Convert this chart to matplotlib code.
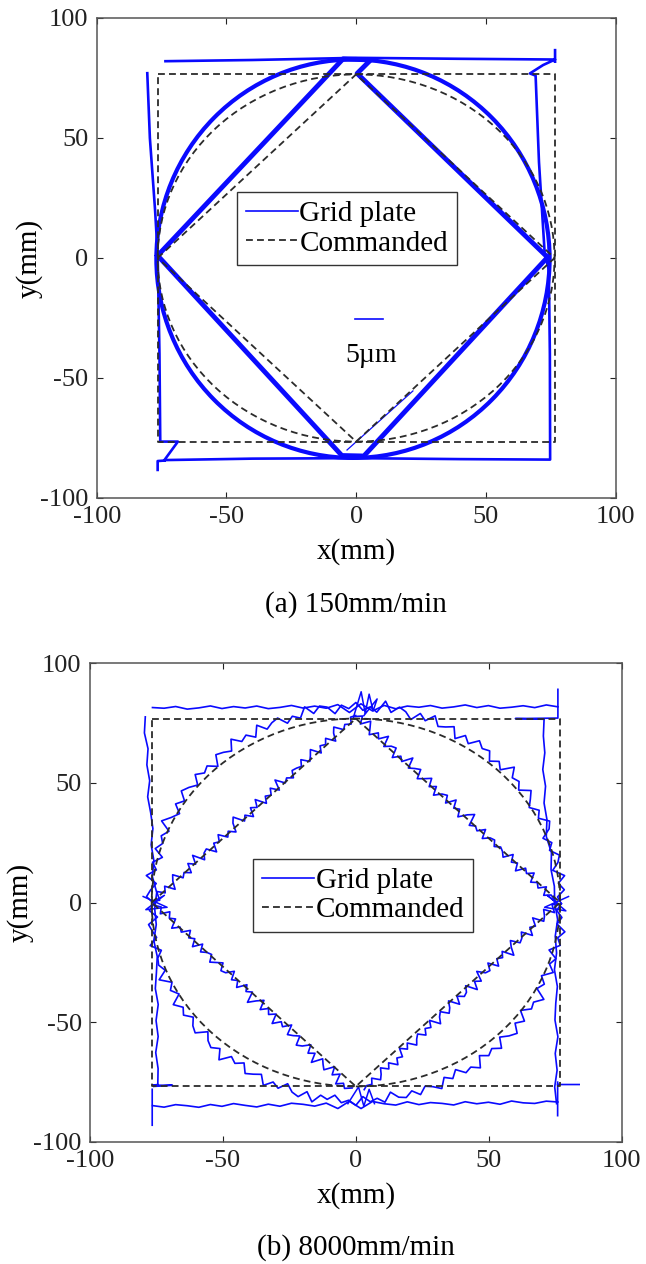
import numpy as np
import matplotlib
matplotlib.use('Agg')
import matplotlib.pyplot as plt
from matplotlib.patches import Circle, Ellipse
from matplotlib.lines import Line2D

plt.rcParams['font.family'] = ['Liberation Serif', 'DejaVu Serif']
plt.rcParams['axes.unicode_minus'] = False

# ---------------- data ----------------
ticks = [-100, -50, 0, 50, 100]
captions = ['(a) 150mm/min', '(b) 8000mm/min']
legend_labels = ['Grid plate', 'Commanded']

# commanded paths (half size of square / diamond, circle radius)
cmd_a = 76.5
cmd_b = 76.8

# ---- (a) 150 mm/min measured traces ----
sq_a_x = [-80.5, -79.5, -77.5, -76.5, -75.8, -75.5, -68.7, -73.9, -40, 0, 40, 74.8, 74.7,
          74.3, 72.7, 70.5, 69.2, 67.0, 72.1, 76.7, 40, 0, -40, -73.5,
          np.nan, -76.5, -76.5, -73.9, np.nan, 76.7, 76.7]
sq_a_y = [77, 50, 20, 1.5, -40, -76.5, -76.5, -84.2, -83.6, -83.4, -83.8, -84.0, -40,
          -5, 2, 40, 76, 76.9, 80.4, 82.7, 83.0, 83.4, 82.5, 82.0,
          np.nan, -88.3, -84.6, -84.4, np.nan, 81.8, 86.6]
circ_a_center = (-1.2, -0.3)
circ_a_rx = 75.8
circ_a_ry = 83.0
dia_a_x = [-76.5, -5.0, 5.6, 0.4, 73.8, 3.0, -5.5, -76.5]
dia_a_y = [1.0, 83.0, 82.5, 76.9, 0.3, -82.5, -82.3, 1.0]
dia_a_extra_x = [-3.5, 21.9]
dia_a_extra_y = [-80.0, -55.4]
scale_bar_x = [-0.3, 10.2]
scale_bar_y = [-25.4, -25.4]
scale_label = '5µm'
scale_label_xy = (5.6, -40.6)

# ---- (b) 8000 mm/min measured traces ----
# nominal paths (vertices) and measured deviations along them (mm)
sq_b_left = ([-79.5, -78.0, -76.5, -75.5, -74.5], [77.5, 50, 20, 0, -76])
sq_b_bottom = ([-76.5, 76.0], [-85.2, -83.5])
sq_b_right = ([75.3, 75.3, 71.0, 70.8], [-84, 0, 40, 76.5])
sq_b_top = ([76.0, -76.5], [82.0, 81.5])
sq_b_left_dev = [0.3, -0.4, 0.6, -0.2, 0.5, -0.6, 0.2, 0.7, -0.3, 0.4, -0.5, 0.8,
                 -0.2, 0.3, -0.7, 0.5, 0.1, -0.4, 0.6, -0.3, 0.4, -0.6, 0.2, 0.0]
sq_b_bottom_dev = [0.4, -0.3, 0.7, 0.2, -0.5, 0.6, -0.2, 0.9, 0.1, -0.6, 0.5, -0.4,
                   0.8, 0.3, -0.5, 0.7, -1.6, 1.4, -1.7, 1.2, 0.2, -0.4, 0.9, -0.3,
                   0.5, 0.1, -0.6, 0.7, -0.2, 0.4, -0.5, 0.8, 0.0, -0.3, 0.6, 0.2]
sq_b_right_dev = [-0.2, 0.5, -0.4, 0.3, -0.7, 0.4, 0.1, -0.5, 0.6, -0.2, 0.3, -0.6,
                  0.5, -0.1, 0.4, -0.5, 0.7, -0.3, 0.2, -0.4, 0.6, -0.2, 0.3, 0.0]
sq_b_top_dev = [0.3, -0.5, 0.6, -0.2, 0.4, 0.8, -0.3, 0.5, -0.6, 0.2, 0.7, -0.4,
                0.3, -0.2, 0.9, -0.5, 1.8, -1.2, 2.4, -0.9, 0.6, -0.3, 0.5, -0.6,
                0.2, 0.7, -0.4, 0.4, -0.2, 0.6, -0.5, 0.3, 0.8, -0.3, 0.4, 0.1]
sq_b_extra_x = [-76.6, -76.6, np.nan, -74.5, -76.6, -69.0, -76.0, np.nan,
                75.9, 75.9, np.nan, 75.9, 84.0, np.nan, 70.8, 60.0, 76.0, 76.0]
sq_b_extra_y = [-78.0, -93.0, np.nan, -76.0, -76.3, -76.3, -76.8, np.nan,
                -75.0, -89.0, np.nan, -76.0, -76.0, np.nan, 76.5, 76.8, 77.0, 89.0]

circ_b_center = (0.0, -0.5)
circ_b_rx = 77.0
circ_b_ry = 82.0
circ_b_dev = [0.3, -1.1, 1.6, -0.4, 2.3, -1.8, 0.7, 1.9, -1.2, 0.5, -2.1, 1.4,
              2.8, -0.6, 1.1, -1.7, 0.4, 2.5, -1.3, 0.9, -0.2, 3.2, -1.5, 0.6,
              -1.9, 1.3, 0.2, 2.1, -1.4, 0.8, -2.4, 1.7, 0.1, -1.0, 2.6, -0.7,
              1.5, -2.0, 0.6, 1.9, -0.9, 3.4, -1.6, 0.4, -1.2, 2.0, -0.5, 1.1,
              -2.2, 0.9, 1.8, -0.8, 2.7, -1.4, 0.3, -1.8, 1.6, 0.7, -0.9, 2.4,
              -1.7, 1.0, -0.3, 2.9, -1.1, 0.5, 1.7, -2.3, 0.8, -0.4, 1.9, -1.5,
              0.6, 2.2, -1.0, 1.3, -1.9, 0.2, 3.0, -1.2, 0.9, -0.6, 1.5, -2.0,
              1.2, -0.8, 2.6, -1.5, 0.4, 1.8, -1.1, 0.7, -2.2, 1.4, 0.3, -0.9,
              2.1, -1.6, 0.5, 1.0, -0.7, 2.8, -1.3, 0.6, -1.7, 2.3, -0.4, 1.2,
              -1.4, 0.8, 1.9, -2.1, 0.3, 1.5, -0.6, 3.1, -1.0, 0.4, -1.8, 1.6,
              0.2, -1.3, 2.4, -0.5, 1.1, -2.0, 0.7, 1.8, -1.1, 2.6, -0.8, 0.5,
              -1.6, 1.3, 0.1, 2.2, -1.4, 0.9, -0.3, 1.7, -2.1, 0.6, 1.4, -0.7,
              1.8, -0.9, 0.4, 2.5, -1.3, 0.7, -2.0, 1.2, 0.3, 2.7, -1.5, 0.8,
              -0.6, 1.9, -1.8, 0.5, 2.2, -1.0, 1.4, -2.3, 0.9, 0.2, 3.1, -1.2,
              0.6, -1.7, 2.0, -0.4, 1.3, -2.1, 1.6, 0.1, 2.4, -0.9, 0.7, -1.4]

dia_b_ul = ([-76.0, 0.0], [0.5, 78.0])
dia_b_ur = ([0.0, 75.5], [78.0, 0.0])
dia_b_lr = ([75.5, 3.0], [0.0, -78.0])
dia_b_ll = ([-2.0, -76.0], [-78.0, 0.5])
dia_b_ul_dev = [0.4, -1.3, 2.1, -0.6, 1.5, -2.2, 0.8, 2.7, -1.0, 0.3, -1.7, 1.9,
                -0.4, 3.0, -1.5, 0.6, 1.2, -2.4, 0.9, -0.2, 2.2, -1.1, 0.5, -1.8,
                1.6, 3.3, -0.9, 0.7, -2.0, 1.4, -0.3, 2.5, -1.6, 0.8, -0.5, 1.8,
                -1.2, 2.9, -0.7, 0.4, -1.4, 1.1, 0.6, -0.2, 1.9, -1.0, 0.5, 2.3,
                -1.6, 0.8, -0.3, 1.5, -2.0, 0.9, 2.6, -0.8, 0.4, -1.2, 1.0, 0.1]
dia_b_ur_dev = [-0.5, 1.7, -1.2, 2.4, 0.3, -1.9, 1.1, -0.6, 2.8, -1.4, 0.7, 1.5,
                -2.3, 0.4, -0.9, 3.1, -1.0, 0.6, 1.9, -1.7, 0.2, 2.3, -0.8, 1.2,
                -2.1, 0.5, 1.6, -1.1, 2.6, -0.4, 0.9, -1.8, 1.3, 3.4, -1.2, 0.3,
                -0.7, 2.0, -1.5, 0.8, 1.4, -0.6, 1.0, 0.2, -1.3, 2.2, -0.5, 0.9,
                -1.9, 1.6, 0.3, 2.5, -1.1, 0.6, -0.8, 1.8, -1.4, 0.7, 0.4, -0.2]
dia_b_lr_dev = [1.1, -0.7, 2.3, -1.6, 0.5, 1.8, -2.2, 0.9, -0.3, 2.7, -1.3, 0.6,
                1.4, -1.9, 0.2, 3.2, -1.1, 0.8, -0.5, 2.1, -1.7, 1.0, 0.4, -2.4,
                1.6, -0.2, 2.9, -1.4, 0.7, 1.3, -0.8, 2.2, -1.8, 0.5, 1.9, -1.0,
                0.3, 2.5, -1.5, 0.9, -0.4, 1.7, -0.9, 0.3, 2.0, -1.2, 0.6, -1.8,
                1.4, 0.2, 2.4, -0.7, 1.1, -1.5, 0.5, 1.9, -1.0, 0.8, -0.3, 0.2]
dia_b_ll_dev = [-0.8, 1.4, 0.2, 2.5, -1.5, 0.9, -2.1, 1.7, 0.4, -1.1, 3.0, -0.6,
                1.3, -1.9, 0.8, 2.2, -1.4, 0.3, 1.6, -2.3, 0.7, -0.4, 2.6, -1.2,
                1.0, -0.7, 1.9, -1.8, 0.5, 3.3, -1.0, 0.6, -1.6, 2.0, -0.3, 1.2,
                -2.0, 0.8, 1.5, -1.3, 0.4, 2.1, -0.6, 0.1, 1.7, -1.1, 2.4, -0.5,
                0.9, -1.7, 1.3, 0.2, 2.8, -0.9, 0.6, -1.4, 1.8, -0.4, 0.7, 0.0]
# jumbles at the diamond vertices
dia_b_star_x = [-80, -71, -79, -72, -76, np.nan, 80, 71, 79, 72, 75.5, np.nan,
                -1, 2, 3.5, 5, 6.5, 8, 3, np.nan, -3, 1, 3, 5, 7]
dia_b_star_y = [2.5, -2.0, -3.0, 3.0, 0.5, np.nan, 2.5, -2.0, -3.5, 3.0, 0.0, np.nan,
                77, 88, 79, 87, 80, 85, 78, np.nan, -84, -77, -85, -78, -84]

BLUE = '#0a0aff'
DASH = '#2b2b2b'


def along(path, dev):
    """Offset the measured deviations perpendicular to the nominal path."""
    vx, vy = np.asarray(path[0], float), np.asarray(path[1], float)
    dx, dy = np.diff(vx), np.diff(vy)
    seg = np.hypot(dx, dy)
    s = np.concatenate([[0], np.cumsum(seg)])
    t = np.linspace(0, s[-1], len(dev))
    x = np.interp(t, s, vx)
    y = np.interp(t, s, vy)
    idx = np.clip(np.searchsorted(s, t, side='right') - 1, 0, len(seg) - 1)
    nx, ny = -dy[idx] / seg[idx], dx[idx] / seg[idx]
    d = np.asarray(dev)
    return x + nx * d, y + ny * d


def draw_commanded(ax, h):
    ax.plot([-h, h, h, -h, -h], [h, h, -h, -h, h], color=DASH, lw=1.3,
            ls=(0, (3.8, 2.3)), zorder=4)
    ax.plot([-h, 0, h, 0, -h], [0, h, 0, -h, 0], color=DASH, lw=1.3,
            ls=(0, (3.8, 2.3)), zorder=4)
    ax.add_patch(Circle((0, 0), h, fill=False, ec=DASH, lw=1.3,
                        ls=(0, (3.8, 2.3)), zorder=4))


def style(ax, ylabelpad):
    ax.set_xlim(-100, 100)
    ax.set_ylim(-100, 100)
    ax.set_xticks(ticks)
    ax.set_yticks(ticks)
    ax.tick_params(direction='in', top=True, right=True, length=4, width=0.8,
                   labelsize=19, pad=6, colors='#222222')
    for sp in ax.spines.values():
        sp.set_color('#555555')
        sp.set_linewidth(1.1)
    ax.set_xlabel('x(mm)', fontsize=21, labelpad=7)
    ax.set_ylabel('y(mm)', fontsize=21, labelpad=ylabelpad)


def add_legend(ax, anchor):
    handles = [Line2D([], [], color=BLUE, lw=1.2),
               Line2D([], [], color=DASH, lw=1.3, ls=(0, (3.8, 2.3)))]
    leg = ax.legend(handles, legend_labels, loc='upper left', bbox_to_anchor=anchor,
                    fontsize=21, frameon=True, fancybox=False, framealpha=1,
                    edgecolor='#333333', borderpad=0.3, labelspacing=0.1,
                    handlelength=1.8, handletextpad=0.05, borderaxespad=0)
    leg.get_frame().set_linewidth(1.0)
    leg.set_zorder(10)


fig = plt.figure(figsize=(6.46, 12.64), dpi=100)
W, H = 646.0, 1264.0
ax1 = fig.add_axes([96.7 / W, 1 - 498 / H, (615.5 - 96.7) / W, (498 - 18) / H])
ax2 = fig.add_axes([90 / W, 1 - 1142 / H, (621.7 - 90) / W, (1142 - 663) / H])

# ---- (a) ----
ax1.plot(sq_a_x, sq_a_y, color=BLUE, lw=1.9, zorder=3)
ax1.add_patch(Ellipse(circ_a_center, 2 * circ_a_rx, 2 * circ_a_ry, fill=False,
                      ec=BLUE, lw=3.0, zorder=3))
ax1.plot(dia_a_x, dia_a_y, color=BLUE, lw=3.5, zorder=3, solid_joinstyle='round')
ax1.plot(dia_a_extra_x, dia_a_extra_y, color=BLUE, lw=0.9, zorder=3)
draw_commanded(ax1, cmd_a)
ax1.plot(scale_bar_x, scale_bar_y, color=BLUE, lw=1.2, zorder=3)
ax1.text(scale_label_xy[0], scale_label_xy[1], scale_label, fontsize=20,
         ha='center', va='center')
style(ax1, -2)
add_legend(ax1, (0.270, 0.6375))

# ---- (b) ----
for path, dev in [(sq_b_left, sq_b_left_dev), (sq_b_bottom, sq_b_bottom_dev),
                  (sq_b_right, sq_b_right_dev), (sq_b_top, sq_b_top_dev),
                  (dia_b_ul, dia_b_ul_dev), (dia_b_ur, dia_b_ur_dev),
                  (dia_b_lr, dia_b_lr_dev), (dia_b_ll, dia_b_ll_dev)]:
    x, y = along(path, dev)
    ax2.plot(x, y, color=BLUE, lw=1.2, zorder=3)
ax2.plot(sq_b_extra_x, sq_b_extra_y, color=BLUE, lw=1.2, zorder=3)
ax2.plot(dia_b_star_x, dia_b_star_y, color=BLUE, lw=1.1, zorder=3)
theta = np.linspace(0, 2 * np.pi, len(circ_b_dev) + 1)
r_dev = np.append(circ_b_dev, circ_b_dev[0])
ax2.plot(circ_b_center[0] + (circ_b_rx + r_dev) * np.cos(theta),
         circ_b_center[1] + (circ_b_ry + r_dev) * np.sin(theta),
         color=BLUE, lw=1.2, zorder=3)
draw_commanded(ax2, cmd_b)
style(ax2, 0)
add_legend(ax2, (0.3066, 0.591))

fig.text(356 / W, 1 - 605 / H, captions[0], ha='center', va='center', fontsize=21)
fig.text(356 / W, 1 - 1248 / H, captions[1], ha='center', va='center', fontsize=21)

fig.savefig('out.png', dpi=100, facecolor='white')
